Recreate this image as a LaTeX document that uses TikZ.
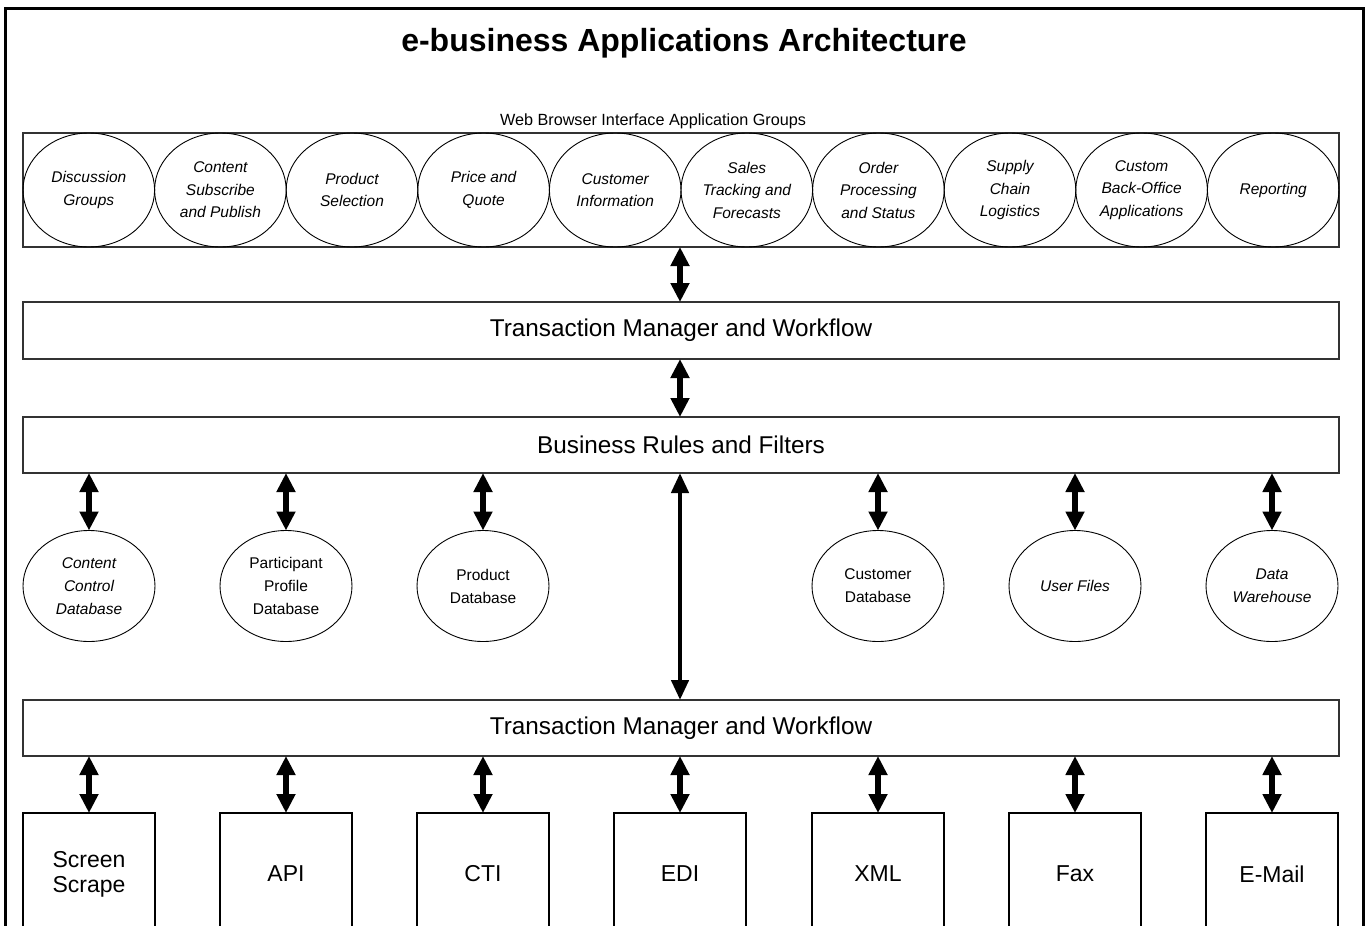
\documentclass[tikz,border=0pt]{standalone}
\usepackage{fontspec}
\setmainfont{Liberation Sans}
\usetikzlibrary{shapes.geometric,arrows.meta}

\tikzset{
  widebox/.style={draw=black!80, line width=1.2pt, minimum width=1316pt, inner sep=0pt, outer sep=0pt,
                  font=\fontsize{24.3}{28}\selectfont},
  appoval/.style={draw, ellipse, line width=0.9pt, minimum width=131.6pt, minimum height=114pt,
                  inner sep=0pt, outer sep=0pt, align=center, font=\fontsize{15.5}{22.5}\selectfont\itshape},
  dboval/.style={draw, ellipse, line width=0.9pt, minimum width=132pt, minimum height=111pt,
                 inner sep=0pt, outer sep=0pt, align=center, font=\fontsize{15.5}{23}\selectfont},
  chanbox/.style={draw, line width=1.2pt, minimum width=132pt, minimum height=122pt,
                  inner sep=0pt, outer sep=0pt, align=center, font=\fontsize{23}{25}\selectfont},
  dbl/.style={line width=5.5pt, {Triangle[length=19pt,width=18pt]}-{Triangle[length=19pt,width=18pt]}},
  dbllong/.style={line width=4.5pt, {Triangle[length=20pt,width=17pt]}-{Triangle[length=20pt,width=17pt]}},
}

\begin{document}
\begin{tikzpicture}[x=1pt,y=-1pt]
\useasboundingbox (0,0) rectangle (1365,926);
\clip (0,0) rectangle (1365,926);

% outer frame (runs off the bottom of the page)
\draw[line width=3pt] (5.3,950) |- (1363,8) -- (1363,950);

% title and caption
\node[anchor=base, font=\fontsize{32}{36}\selectfont\bfseries] (title) at (684,51)
  {e-business Applications Architecture};
\node[anchor=base, font=\fontsize{16.2}{18}\selectfont] (caption) at (653,125)
  {Web Browser Interface Application Groups};

% application groups
\node[widebox, minimum height=114pt] (apps) at (681,190) {};
\foreach \i/\t in {1/{Discussion\\Groups},
                   2/{Content\\Subscribe\\and Publish},
                   3/{Product\\Selection},
                   4/{Price and\\Quote},
                   5/{Customer\\Information},
                   6/{Sales\\Tracking and\\Forecasts},
                   7/{Order\\Processing\\and Status},
                   8/{Supply\\Chain\\Logistics},
                   9/{Custom\\Back-Office\\Applications},
                   10/{Reporting}}
  \node[appoval] (app\i) at ({23+65.8+131.6*(\i-1)},190) {\t};

% layered bars
\node[widebox, minimum height=57pt] (tm1) at (681,330.5) {\raisebox{-2pt}{Transaction Manager and Workflow}};
\node[widebox, minimum height=56pt] (br)  at (681,445)   {\raisebox{-2pt}{Business Rules and Filters}};
\node[widebox, minimum height=56pt] (tm2) at (681,728)   {\raisebox{-1pt}{Transaction Manager and Workflow}};

% databases
\node[dboval] (db1) at (89,586)   {\itshape Content\\\itshape Control\\\itshape Database};
\node[dboval] (db2) at (286,586)  {Participant\\Profile\\Database};
\node[dboval] (db3) at (483,586)  {Product\\Database};
\node[dboval] (db4) at (878,586)  {Customer\\Database};
\node[dboval] (db5) at (1075,586) {\itshape User Files};
\node[dboval] (db6) at (1272,586) {\itshape Data\\\itshape Warehouse};

% channels
\node[chanbox] (ch1) at (89,874)   {Screen\\Scrape};
\node[chanbox] (ch2) at (286,874)  {API};
\node[chanbox] (ch3) at (483,874)  {CTI};
\node[chanbox] (ch4) at (680,874)  {EDI};
\node[chanbox] (ch5) at (878,874)  {XML};
\node[chanbox] (ch6) at (1075,874) {Fax};
\node[chanbox] (ch7) at (1272,874) {E-Mail};

% connectors
\coordinate (mid) at (680,0);
\draw[dbl] (apps.south -| mid) -- (tm1.north -| mid);
\draw[dbl] (tm1.south -| mid) -- (br.north -| mid);
\draw[dbllong] (br.south -| mid) -- (tm2.north -| mid);
\foreach \d in {db1,db2,db3,db4,db5,db6}
  \draw[dbl] (br.south -| \d) -- (\d.north);
\foreach \c in {ch1,ch2,ch3,ch4,ch5,ch6,ch7}
  \draw[dbl] (tm2.south -| \c) -- (\c.north);
\end{tikzpicture}
\end{document}
